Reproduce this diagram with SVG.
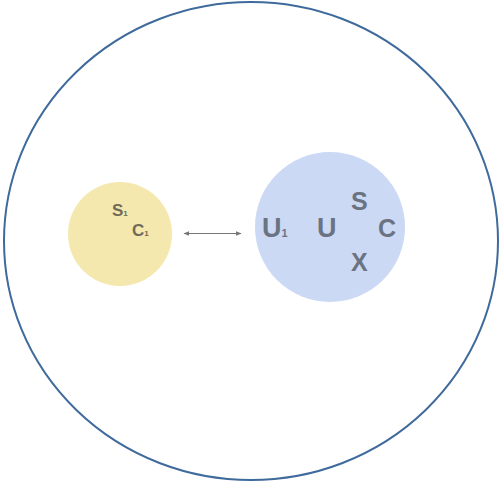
<svg xmlns="http://www.w3.org/2000/svg" width="500" height="482" viewBox="0 0 500 482">
<style>
.lbl{font-family:"Liberation Sans",Arial,sans-serif;font-weight:bold;}
.y{fill:#6f6b58;}
.b{fill:#6b7382;}
</style>
<defs>
<marker id="ah" viewBox="0 0 10 10" refX="9" refY="5" markerWidth="5" markerHeight="5" orient="auto-start-reverse">
<path d="M0,1 L10,5 L0,9 Z" fill="#777"/>
</marker>
</defs>
<rect width="500" height="482" fill="#fff"/>
<g id="outer"><ellipse cx="251" cy="241" rx="247" ry="239" fill="none" stroke="#3f6a9c" stroke-width="2"/></g>
<g id="nodeA">
<circle cx="120" cy="234" r="52" fill="#f5e8ae"/>
<text class="lbl y" x="112" y="216" font-size="17">S<tspan font-size="8">1</tspan></text>
<text class="lbl y" x="132" y="236" font-size="17">C<tspan font-size="8">1</tspan></text>
</g>
<g id="nodeB">
<circle cx="330" cy="227" r="75" fill="#cbd9f5"/>
<text class="lbl b" x="262" y="237" font-size="27">U<tspan font-size="11">1</tspan></text>
<text class="lbl b" x="317" y="237" font-size="27">U</text>
<text class="lbl b" x="351" y="210" font-size="25">S</text>
<text class="lbl b" x="378" y="237" font-size="25">C</text>
<text class="lbl b" x="351" y="271" font-size="25">X</text>
</g>
<g id="connectors">
<line x1="184" y1="233.5" x2="241" y2="233.5" stroke="#777" stroke-width="1.2" marker-start="url(#ah)" marker-end="url(#ah)"/>
</g>
</svg>
